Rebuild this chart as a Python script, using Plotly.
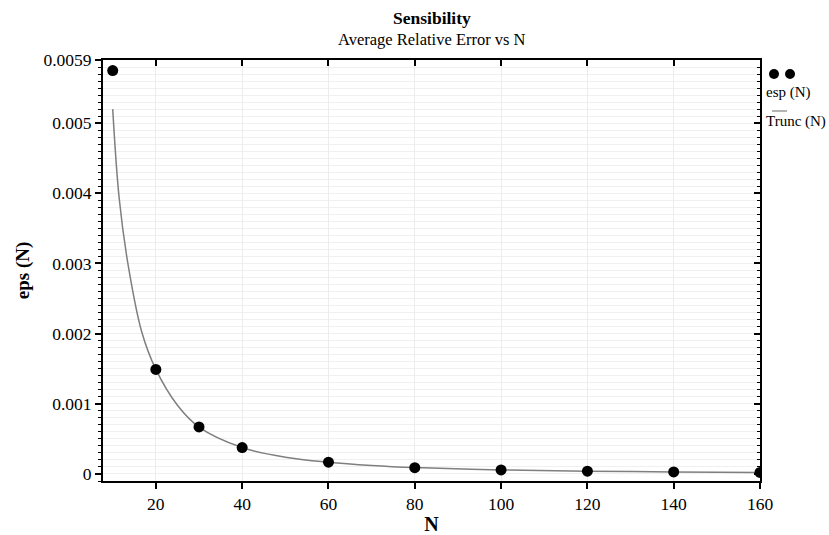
import plotly.graph_objects as go

# ---- data ----
N_points = [10, 20, 30, 40, 60, 80, 100, 120, 140, 160]
eps_points = [0.00575, 0.00149, 0.000670, 0.000377, 0.000168, 0.000090,
              0.000057, 0.000040, 0.000030, 0.000022]

N_trunc = [10, 11.5, 13.6, 16.75, 20, 25, 30, 40, 50, 60, 70, 80, 100, 120, 140, 160]
eps_trunc = [0.00520, 0.00393, 0.00297, 0.00202, 0.00149, 0.00098, 0.000669,
             0.000377, 0.000240, 0.000168, 0.000122, 0.000092, 0.000058,
             0.000040, 0.000030, 0.000022]

x_ticks = [20, 40, 60, 80, 100, 120, 140, 160]
y_ticks = [0, 0.001, 0.002, 0.003, 0.004, 0.005, 0.0059]
y_ticktext = ["0", "0.001", "0.002", "0.003", "0.004", "0.005", "0.0059"]

x_range = [7.75, 160]
y_range = [-0.0001, 0.0059]

FONT = "Liberation Serif"

fig = go.Figure()

fig.add_trace(go.Scatter(
    x=N_trunc, y=eps_trunc, mode="lines", name="Trunc (N)",
    line=dict(color="#7f7f7f", width=1.5, shape="spline"),
    showlegend=False,
))
fig.add_trace(go.Scatter(
    x=N_points, y=eps_points, mode="markers", name="esp (N)",
    marker=dict(color="black", size=11),
    showlegend=False,
))
# invisible trace to bind the mirrored (top/right) axes
fig.add_trace(go.Scatter(
    x=N_points, y=eps_points, xaxis="x2", yaxis="y2", mode="markers",
    marker=dict(opacity=0), hoverinfo="skip", showlegend=False,
))

fig.update_layout(
    width=829, height=535,
    margin=dict(l=103, r=69, t=60, b=54),
    paper_bgcolor="white", plot_bgcolor="white",
    font=dict(family=FONT, color="black", size=16),
    xaxis=dict(
        range=x_range, tickmode="array", tickvals=x_ticks,
        ticks="outside", ticklen=6, tickwidth=1.5, tickcolor="black",
        showline=True, linecolor="black", linewidth=2, mirror=True,
        showgrid=True, gridcolor="#ececec", gridwidth=1, zeroline=False,
        tickfont=dict(family=FONT, size=17.5), automargin=False,
        title=dict(text="<b>N</b>", font=dict(family=FONT, size=20), standoff=5),
    ),
    yaxis=dict(
        range=y_range, tickmode="array", tickvals=y_ticks, ticktext=y_ticktext,
        ticks="outside", ticklen=6, tickwidth=1.5, tickcolor="black",
        showline=True, linecolor="black", linewidth=2, mirror=True,
        showgrid=False, zeroline=False, automargin=False,
        minor=dict(tick0=0, dtick=0.0001, ticks="outside", ticklen=3,
                   tickwidth=1, tickcolor="black",
                   showgrid=True, gridcolor="#f0f0f0", gridwidth=1),
        tickfont=dict(family=FONT, size=17.5),
        title=dict(text="<b>eps (N)</b>", font=dict(family=FONT, size=19), standoff=9),
    ),
    xaxis2=dict(
        overlaying="x", side="top", range=x_range, tickmode="array",
        tickvals=x_ticks, ticks="inside", ticklen=6, tickwidth=1.5,
        tickcolor="black", showticklabels=False, showgrid=False,
        showline=False, zeroline=False, automargin=False,
    ),
    yaxis2=dict(
        overlaying="y", side="right", range=y_range, tickmode="array",
        tickvals=y_ticks, ticks="inside", ticklen=6, tickwidth=1.5,
        tickcolor="black", showticklabels=False, showgrid=False,
        showline=False, zeroline=False, automargin=False,
        minor=dict(tick0=0, dtick=0.0001, ticks="inside", ticklen=3,
                   tickwidth=1, tickcolor="black", showgrid=False),
    ),
)

# title and subtitle
fig.add_annotation(text="<b>Sensibility</b>", xref="paper", yref="paper",
                   x=0.5, y=1, yshift=42, showarrow=False, yanchor="middle",
                   font=dict(family=FONT, size=17.5, color="black"))
fig.add_annotation(text="Average Relative Error vs N", xref="paper", yref="paper",
                   x=0.5, y=1, yshift=21, showarrow=False, yanchor="middle",
                   font=dict(family=FONT, size=16.5, color="black"))

# legend (symbols above labels, as in reference)
for xp in [1.0213, 1.0457]:
    fig.add_shape(type="circle", xref="paper", yref="paper",
                  xsizemode="pixel", ysizemode="pixel",
                  xanchor=xp, yanchor=0.9667, x0=-5, x1=5, y0=-5, y1=5,
                  fillcolor="black", line=dict(color="black", width=0))
fig.add_annotation(text="esp (N)", xref="paper", yref="paper", x=1.006, y=0.922,
                   xanchor="left", yanchor="middle", showarrow=False,
                   font=dict(family=FONT, size=15, color="black"))
fig.add_shape(type="line", xref="paper", yref="paper",
              x0=(772 - 103) / 657, x1=(787 - 103) / 657,
              y0=(481 - 111) / 421, y1=(481 - 111) / 421,
              line=dict(color="#9a9a9a", width=1.5))
fig.add_annotation(text="Trunc (N)", xref="paper", yref="paper", x=1.006, y=0.855,
                   xanchor="left", yanchor="middle", showarrow=False,
                   font=dict(family=FONT, size=15, color="black"))

fig.write_html("out.html",
               config={"displayModeBar": False},
               post_script="document.body.style.margin='0';"
                           "document.body.style.overflow='hidden';")
